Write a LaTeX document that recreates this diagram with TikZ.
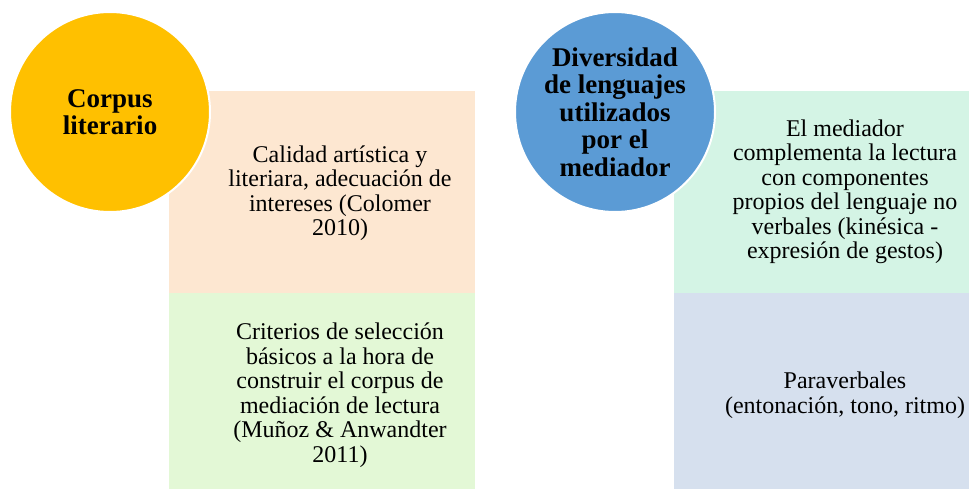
\documentclass[tikz,border=0pt]{standalone}
\usepackage{fontspec}
\setmainfont{Liberation Serif}
\usepackage{xcolor}

\definecolor{gold}{HTML}{FFC000}
\definecolor{steel}{HTML}{5B9BD5}
\definecolor{peach}{HTML}{FDE7D1}
\definecolor{lime}{HTML}{E3F8D6}
\definecolor{mint}{HTML}{D4F4E5}
\definecolor{haze}{HTML}{D6E0EE}

\tikzset{
    bubble/.style={circle, draw=white, line width=2pt, minimum size=200pt, inner sep=0pt,
        align=center, font=\fontsize{27}{27.5}\selectfont\bfseries},
    panel/.style={rectangle, inner sep=0pt},
    blurb/.style={align=center, inner sep=0pt, font=\fontsize{24}{24.5}\selectfont}
}

\begin{document}
\begin{tikzpicture}[x=1pt,y=-1pt]
    \useasboundingbox (0,0) rectangle (969,490);
    % left group
    \node[panel, fill=peach, minimum width=306pt, minimum height=202pt] (calidadBox) at (322,192) {};
    \node[panel, fill=lime, minimum width=306pt, minimum height=196pt] (criteriosBox) at (322,391) {};
    \node[blurb] (calidad) at (340,193) {Calidad artística y\\literiara, adecuación de\\intereses (Colomer\\2010)};
    \node[blurb] (criterios) at (340,395) {Criterios de selección\\básicos a la hora de\\construir el corpus de\\mediación de lectura\\(Muñoz \& Anwandter\\2011)};
    \node[bubble, fill=gold] (corpus) at (110,112) {Corpus\\literario};
    % right group
    \node[panel, fill=mint, minimum width=295pt, minimum height=202pt] (mediadorBox) at (821.5,192) {};
    \node[panel, fill=haze, minimum width=295pt, minimum height=196pt] (paraBox) at (821.5,391) {};
    \node[blurb] (mediador) at (845,192) {El mediador\\complementa la lectura\\con componentes\\propios del lenguaje no\\verbales (kinésica -\\expresión de gestos)};
    \node[blurb] (para) at (845,395) {Paraverbales\\(entonación, tono, ritmo)};
    \node[bubble, fill=steel] (diversidad) at (615,112) {Diversidad\\de lenguajes\\utilizados\\por el\\mediador};
\end{tikzpicture}
\end{document}
